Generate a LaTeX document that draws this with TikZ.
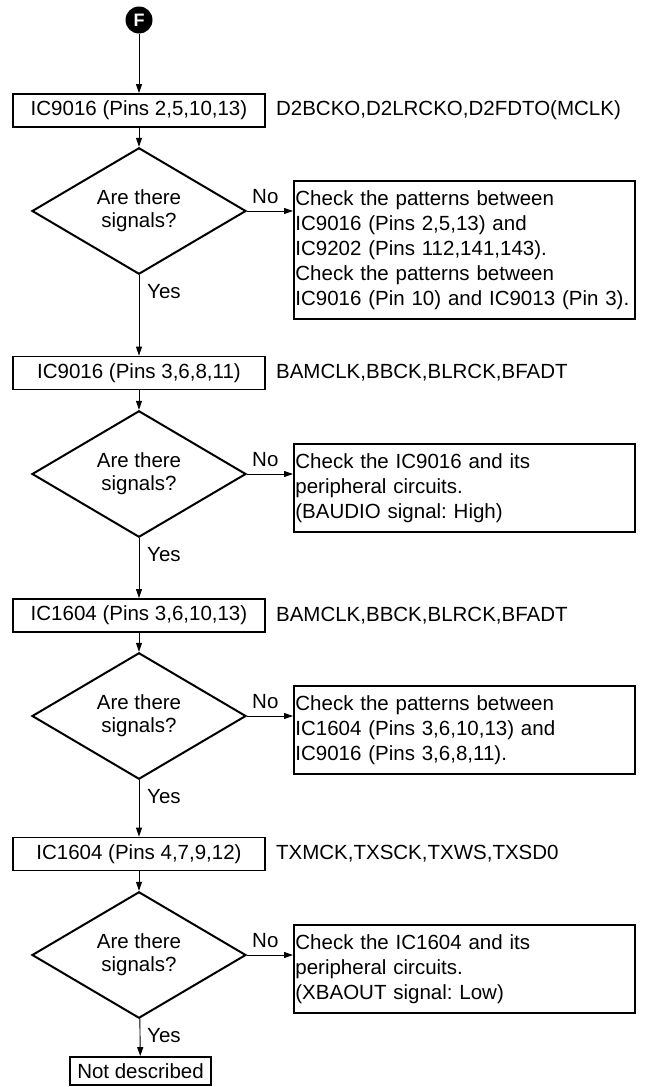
\documentclass[tikz,border=0pt]{standalone}
\usepackage{fontspec}
\setmainfont{Liberation Sans}
\frenchspacing
\usetikzlibrary{positioning,arrows.meta,shapes.geometric}

\begin{document}
\begin{tikzpicture}[
    x=1pt, y=-1pt,
    txt/.style={font=\fontsize{20.5}{25}\selectfont},
    icbox/.style={txt, draw, line width=1.8pt, minimum width=252pt, minimum height=33pt, inner sep=0pt},
    ask/.style={draw, line width=2pt, diamond, minimum width=214pt, minimum height=116pt, inner sep=0pt, align=center, font=\fontsize{20.5}{23}\selectfont},
    nobox/.style={txt, draw, line width=1.8pt, anchor=north west, text width=338pt, inner xsep=1.5pt, inner ysep=9.5pt, align=left},
    sig/.style={txt, anchor=west, inner sep=0pt},
    lbl/.style={txt, anchor=base west, inner sep=0pt},
    arr/.style={-{Triangle[length=9pt,width=6pt]}, line width=0.9pt},
]
\useasboundingbox (0,0) rectangle (649,1087);

\node[circle, fill=black, minimum size=27pt, inner sep=0pt, text=white, font=\bfseries\fontsize{18}{18}\selectfont] (F) at (139,20) {F};

\node[icbox] (b1) at (139,110.5) {IC9016 (Pins 2,5,10,13)};
\node[sig] (s1) at ([xshift=10pt]b1.east) {D2BCKO,D2LRCKO,D2FDTO(MCLK)};
\node[ask] (d1) at (139,211) {Are there\\signals?};
\node[nobox] (n1) at ([xshift=46pt,yshift=31pt]d1.east) {Check the patterns between\\IC9016 (Pins 2,5,13) and\\IC9202 (Pins 112,141,143).\\Check the patterns between\\IC9016 (Pin 10) and IC9013 (Pin 3).};
\node[lbl] (no1) at ([xshift=5pt,yshift=8pt]d1.east) {No};
\node[lbl] (yes1) at ([xshift=8pt,yshift=-23pt]d1.south) {Yes};

\node[icbox] (b2) at (139,373) {IC9016 (Pins 3,6,8,11)};
\node[sig] (s2) at ([xshift=10pt]b2.east) {BAMCLK,BBCK,BLRCK,BFADT};
\node[ask] (d2) at (139,474) {Are there\\signals?};
\node[nobox] (n2) at ([xshift=46pt,yshift=31pt]d2.east) {Check the IC9016 and its\\peripheral circuits.\\(BAUDIO signal: High)};
\node[lbl] (no2) at ([xshift=5pt,yshift=8pt]d2.east) {No};
\node[lbl] (yes2) at ([xshift=8pt,yshift=-23pt]d2.south) {Yes};

\node[icbox] (b3) at (139,615.5) {IC1604 (Pins 3,6,10,13)};
\node[sig] (s3) at ([xshift=10pt]b3.east) {BAMCLK,BBCK,BLRCK,BFADT};
\node[ask] (d3) at (139,716) {Are there\\signals?};
\node[nobox] (n3) at ([xshift=46pt,yshift=31pt]d3.east) {Check the patterns between\\IC1604 (Pins 3,6,10,13) and\\IC9016 (Pins 3,6,8,11).};
\node[lbl] (no3) at ([xshift=5pt,yshift=8pt]d3.east) {No};
\node[lbl] (yes3) at ([xshift=8pt,yshift=-23pt]d3.south) {Yes};

\node[icbox] (b4) at (139,854) {IC1604 (Pins 4,7,9,12)};
\node[sig] (s4) at ([xshift=10pt]b4.east) {TXMCK,TXSCK,TXWS,TXSD0};
\node[ask] (d4) at (139,955) {Are there\\signals?};
\node[nobox] (n4) at ([xshift=46pt,yshift=31pt]d4.east) {Check the IC1604 and its\\peripheral circuits.\\(XBAOUT signal: Low)};
\node[lbl] (no4) at ([xshift=5pt,yshift=8pt]d4.east) {No};
\node[lbl] (yes4) at ([xshift=8pt,yshift=-23pt]d4.south) {Yes};

\node[txt, draw, line width=1.8pt, minimum width=141pt, minimum height=28pt, inner sep=0pt] (nd) at (140.5,1071) {Not described};

\draw[arr] (F) -- (b1);
\draw[arr] (b1) -- (d1);
\draw[arr] (d1.east) -- (d1.east -| n1.west);
\draw[arr] (d1) -- (b2);
\draw[arr] (b2) -- (d2);
\draw[arr] (d2.east) -- (d2.east -| n2.west);
\draw[arr] (d2) -- (b3);
\draw[arr] (b3) -- (d3);
\draw[arr] (d3.east) -- (d3.east -| n3.west);
\draw[arr] (d3) -- (b4);
\draw[arr] (b4) -- (d4);
\draw[arr] (d4.east) -- (d4.east -| n4.west);
\draw[arr] (d4) -- (nd);
\end{tikzpicture}
\end{document}
